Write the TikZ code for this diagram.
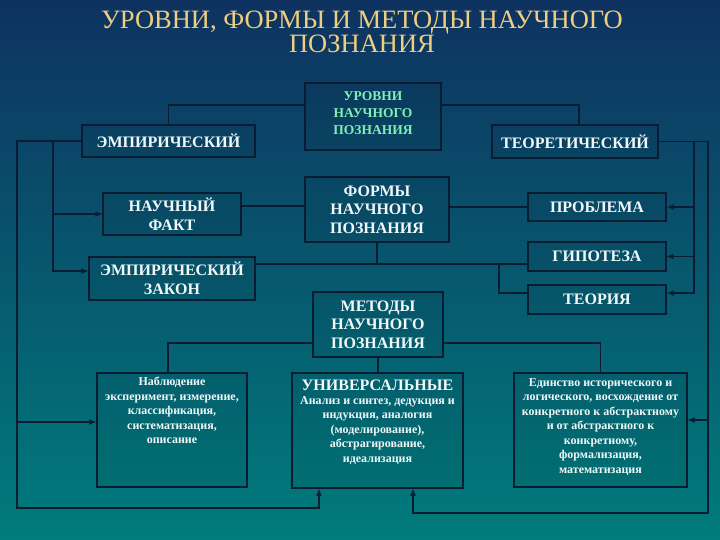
\documentclass[tikz,border=0pt]{standalone}
\usepackage{fontspec}
\setmainfont{Liberation Serif}
\usetikzlibrary{arrows.meta}
\definecolor{bgtop}{RGB}{14,50,96}
\definecolor{bgmid}{RGB}{6,88,116}
\definecolor{bgbot}{RGB}{0,124,124}
\definecolor{linec}{RGB}{10,28,50}
\definecolor{titlec}{RGB}{238,206,128}
\definecolor{levc}{RGB}{130,240,180}
\definecolor{txtc}{RGB}{240,248,250}
\begin{document}
\begin{tikzpicture}[x=1pt,y=-1pt,
  box/.style={draw=linec, line width=1.1pt, fill=black, fill opacity=0.05, text opacity=1, inner sep=0pt},
  btxt/.style={text=txtc, font=\bfseries\fontsize{16}{18.5}\selectfont, align=center},
  stxt/.style={text=txtc, font=\bfseries\fontsize{12}{14.5}\selectfont, align=center, anchor=north, inner sep=0pt},
  ln/.style={draw=linec, line width=1.1pt},
  ar/.style={-{Latex[length=7pt,width=6pt]}}]
\useasboundingbox (0,0) rectangle (720,540);
\shade[top color=bgtop, middle color=bgmid, bottom color=bgbot] (0,0) rectangle (720,540);
% title
\node[text=titlec, font=\fontsize{26.5}{24}\selectfont, align=center] (title) at (362,32) {УРОВНИ, ФОРМЫ И МЕТОДЫ НАУЧНОГО\\ПОЗНАНИЯ};
% boxes
\node[box, minimum width=136pt, minimum height=67pt] (lev) at (373,116.5) {};
\node[text=levc, font=\bfseries\fontsize{13.5}{17}\selectfont, align=center] (levt) at (373,113) {УРОВНИ\\НАУЧНОГО\\ПОЗНАНИЯ};
\node[box, btxt, minimum width=173pt, minimum height=32pt] (emp) at (168.5,141) {ЭМПИРИЧЕСКИЙ};
\node[box, btxt, minimum width=166pt, minimum height=33pt] (teo) at (575,141.5) {ТЕОРЕТИЧЕСКИЙ};
\node[box, btxt, minimum width=138pt, minimum height=42pt] (fact) at (172,214) {НАУЧНЫЙ\\ФАКТ};
\node[box, btxt, minimum width=144pt, minimum height=65pt] (forms) at (377,209.5) {ФОРМЫ\\НАУЧНОГО\\ПОЗНАНИЯ};
\node[box, btxt, minimum width=166pt, minimum height=43pt] (law) at (172,278.5) {ЭМПИРИЧЕСКИЙ\\ЗАКОН};
\node[box, btxt, minimum width=138pt, minimum height=28pt] (prob) at (597,207) {ПРОБЛЕМА};
\node[box, btxt, minimum width=138pt, minimum height=29pt] (hyp) at (597,256.5) {ГИПОТЕЗА};
\node[box, btxt, minimum width=138pt, minimum height=29pt] (theo) at (597,299.5) {ТЕОРИЯ};
\node[box, btxt, minimum width=130pt, minimum height=65pt] (meth) at (378,324.5) {МЕТОДЫ\\НАУЧНОГО\\ПОЗНАНИЯ};
\node[box, minimum width=150pt, minimum height=114pt] (obs) at (172,430) {};
\node[box, minimum width=171pt, minimum height=115pt] (univ) at (377.5,430.5) {};
\node[box, minimum width=173pt, minimum height=114pt] (unity) at (600.5,430) {};
\node[stxt] (obst) at (172,377) {Наблюдение\\эксперимент, измерение,\\классификация,\\систематизация,\\описание};
\node[btxt, font=\bfseries\fontsize{16}{18}\selectfont] (univt1) at (377.5,385) {УНИВЕРСАЛЬНЫЕ};
\node[stxt] (univt2) at (377.5,396) {Анализ и синтез, дедукция и\\индукция, аналогия\\(моделирование),\\абстрагирование,\\идеализация};
\node[stxt] (unityt) at (600.5,378) {Единство исторического и\\логического, восхождение от\\конкретного к абстрактному\\и от абстрактного к\\конкретному,\\формализация,\\математизация};
% helper coordinates
\coordinate (xL) at (17,0);
\coordinate (xLi) at (53,0);
\coordinate (xR) at (708,0);
\coordinate (xRi) at (694,0);
\coordinate (xM) at (499,0);
\coordinate (yB1) at (0,508);
\coordinate (yB2) at (0,513);
\coordinate (yM) at (0,264);
\coordinate (levW) at ([yshift=11.5pt]lev.west);
\coordinate (levE) at ([yshift=11.5pt]lev.east);
\coordinate (obsW) at ([yshift=8pt]obs.west);
\coordinate (lawW) at ([yshift=7.5pt]law.west);
\coordinate (lawE) at ([yshift=14.5pt]law.east);
\coordinate (factE) at ([yshift=8pt]fact.east);
\coordinate (thW) at ([yshift=6.5pt]theo.west);
\coordinate (thE) at ([yshift=6.5pt]theo.east);
\coordinate (uE) at ([yshift=10pt]unity.east);
\coordinate (univL) at ([xshift=-58.5pt]univ.south);
\coordinate (univR) at ([xshift=35.5pt]univ.south);
\coordinate (methW) at ([yshift=-18.5pt]meth.west);
\coordinate (methE) at ([yshift=-18.5pt]meth.east);
\coordinate (obsN) at ([xshift=-4pt]obs.north);
\coordinate (teoN) at ([xshift=4pt]teo.north);
% connectors
\draw[ln] (levW) -| (emp.north);
\draw[ln] (levE) -| (teoN);
\draw[ln, ar] (emp.west) -- (emp.west -| xL) -- (xL |- yB1) -| (univL);
\draw[ln, ar] (obsW -| xL) -- (obsW);
\draw[ln, ar] (emp.west -| xLi) |- (lawW);
\draw[ln, ar] (fact.west -| xLi) -- (fact.west);
\draw[ln] (factE) -- (factE -| forms.west);
\draw[ln] (forms.east |- prob.west) -- (prob.west);
\draw[ln] (forms.south) -- (forms.south |- yM);
\draw[ln] (lawE) -- (lawE -| hyp.west);
\draw[ln] (lawE -| xM) |- (thW);
\draw[ln, ar] (teo.east) -- (teo.east -| xR) -- (xR |- yB2) -| (univR);
\draw[ln, ar] (uE -| xR) -- (uE);
\draw[ln, ar] (teo.east -| xRi) |- (thE);
\draw[ln, ar] (prob.east -| xRi) -- (prob.east);
\draw[ln, ar] (hyp.east -| xRi) -- (hyp.east);
\draw[ln] (methW) -| (obsN);
\draw[ln] (methE) -| (unity.north);
\draw[ln] (meth.south) -- (meth.south |- univ.north);
\end{tikzpicture}
\end{document}
